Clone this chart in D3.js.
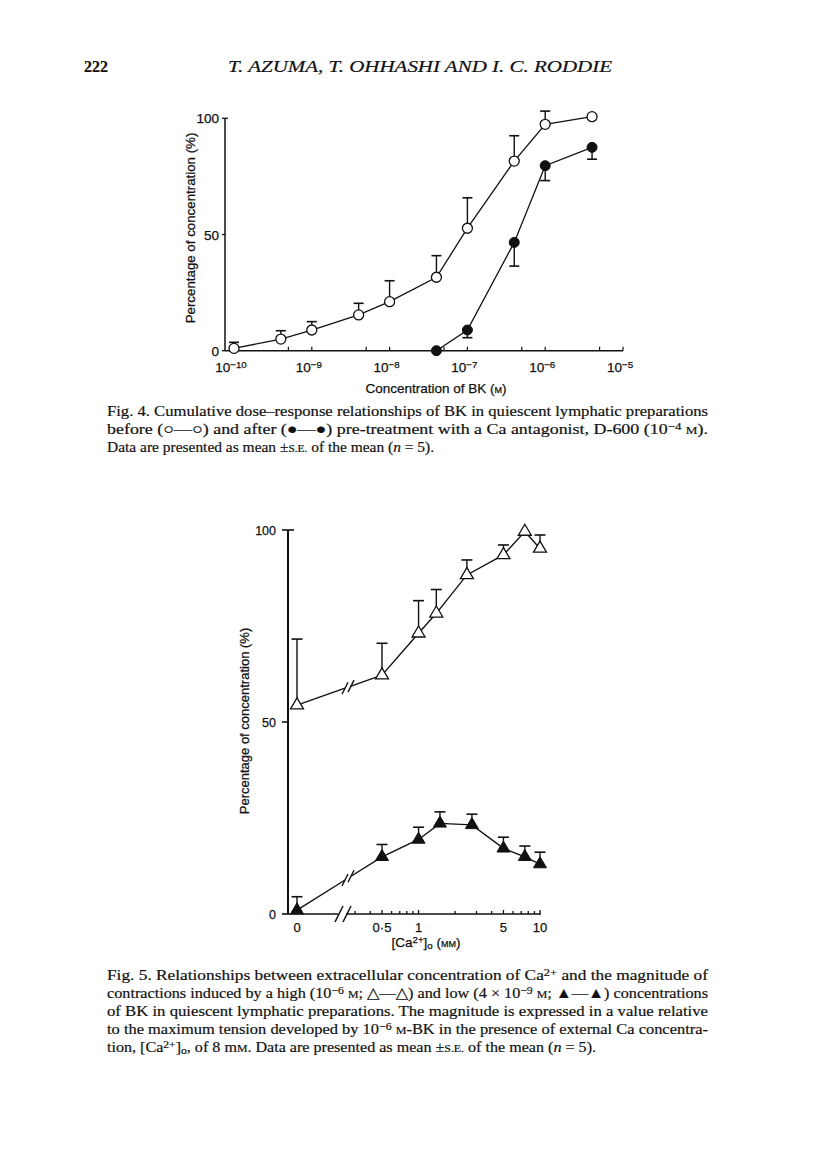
<!DOCTYPE html>
<html>
<head>
<meta charset="utf-8">
<script src="https://cdn.jsdelivr.net/npm/d3@7"></script>
<style>
  body { margin: 0; background: #fff; }
  svg { display: block; }
  .sans { font-family: 'Liberation Sans', Arial, Helvetica, sans-serif; fill: #111; stroke: #111; stroke-width: 0.25px; }
  .serif { font-family: 'Liberation Serif', 'DejaVu Serif', serif; fill: #111; stroke: #111; stroke-width: 0.2px; }
  .sc { font-variant-caps: all-small-caps; }
</style>
</head>
<body>
<script>
// ---- Fig. 4 : BK dose-response, before / after D-600 ----
const bkConc = [1e-10, 4e-10, 1e-9, 4e-9, 1e-8, 4e-8, 1e-7, 4e-7, 1e-6, 4e-6]
const beforeMean = [1.0, 5.0, 8.9, 15.4, 21.1, 31.6, 52.7, 81.6, 97.4, 100.7]
const beforeSE = [2.6, 3.6, 3.6, 5.0, 9.0, 9.3, 13.1, 10.9, 5.7, 0]
const afterConc = [4e-8, 1e-7, 4e-7, 1e-6, 4e-6]
const afterMean = [0, 8.9, 46.6, 79.6, 87.5]
const afterSE = [0, 3.3, 10.2, 6.4, 5.1]
const bkMajorTicks = [1e-10, 1e-9, 1e-8, 1e-7, 1e-6, 1e-5]
const bkMinorTicks = [5e-10, 5e-9, 5e-8, 5e-7, 5e-6]
const bkTickExp = ['−10', '−9', '−8', '−7', '−6', '−5']

// ---- Fig. 5 : extracellular Ca2+ ----
const caHigh = [0, 0.5, 1, 1.4, 2.5, 5, 7.5, 10]
const highMean = [54.4, 62.2, 73.1, 78.3, 88.3, 93.5, 99.6, 95.2]
const highSE = [17.2, 8.3, 8.5, 6.2, 3.9, 2.6, 0, 3.5]
const caLow = [0, 0.5, 1, 1.5, 2.75, 5, 7.5, 10]
const lowMean = [1.0, 14.9, 19.4, 23.6, 23.2, 17.1, 14.9, 13.0]
const lowSE = [3.5, 3.2, 3.2, 3.0, 2.8, 2.9, 2.8, 3.1]
const caTicks = [0.3, 0.4, 0.5, 0.6, 0.7, 0.8, 0.9, 1, 2, 3, 4, 5, 6, 7, 8, 9, 10]
const caTickLabels = [0.5, 1, 5, 10]
const pctTicks = [0, 50, 100]

let svg = d3.select('body').append('svg')
  .attr('width', 816)
  .attr('height', 1160)

svg.append('rect').attr('width', 816).attr('height', 1160).attr('fill', '#fff')

// tiny markup: ^{sup} _{sub} ~{small caps} *{italic}
function rich(text, str) {
  let re = /([\^_~*])\{([^}]*)\}/g
  let last = 0
  let m
  while ((m = re.exec(str)) !== null) {
    if (m.index > last) text.append('tspan').text(str.slice(last, m.index))
    let t = text.append('tspan').text(m[2])
    if (m[1] === '^') t.attr('baseline-shift', '38%').attr('font-size', '72%')
    if (m[1] === '_') t.attr('baseline-shift', '-22%').attr('font-size', '72%')
    if (m[1] === '~') t.attr('class', 'sc')
    if (m[1] === '*') t.attr('font-style', 'italic')
    last = re.lastIndex
  }
  if (last < str.length) text.append('tspan').text(str.slice(last))
  return text
}

// ---- page header ----
svg.append('text').attr('class', 'serif')
  .attr('x', 84).attr('y', 72)
  .attr('font-size', 16).attr('font-weight', 'bold')
  .text('222')
svg.append('text').attr('class', 'serif')
  .attr('x', 228).attr('y', 72)
  .attr('font-size', 16.5).attr('font-style', 'italic')
  .attr('textLength', 384).attr('lengthAdjust', 'spacingAndGlyphs')
  .text('T. AZUMA, T. OHHASHI AND I. C. RODDIE')

// ================= Fig. 4 =================
let x4 = d3.scaleLog().domain([1e-10, 1e-5]).range([234, 623])
let y4 = d3.scaleLinear().domain([0, 100]).range([350.7, 118.3])
let axis4x = 225

let f4 = svg.append('g')

// x axis line, ticks pointing up
f4.append('line')
  .attr('x1', axis4x).attr('x2', x4(1e-5))
  .attr('y1', y4(0)).attr('y2', y4(0))
  .attr('stroke', '#111').attr('stroke-width', 1.5)
f4.selectAll('.xt4')
  .data(bkMajorTicks.concat(bkMinorTicks))
  .enter().append('line')
  .attr('x1', d => x4(d)).attr('x2', d => x4(d))
  .attr('y1', y4(0)).attr('y2', y4(0) - 4)
  .attr('stroke', '#111').attr('stroke-width', 1.2)
f4.selectAll('.xl4')
  .data(bkMajorTicks)
  .enter().append('text')
  .attr('class', 'sans')
  .attr('x', d => x4(d) - 3)
  .attr('y', y4(0) + 21)
  .attr('font-size', 13.5)
  .attr('text-anchor', 'middle')
  .each(function(d, i) {
    rich(d3.select(this), '10^{' + bkTickExp[i] + '}')
  })

// y axis
f4.append('line')
  .attr('x1', axis4x).attr('x2', axis4x)
  .attr('y1', y4(0)).attr('y2', y4(100))
  .attr('stroke', '#111').attr('stroke-width', 1.5)
f4.selectAll('.yt4')
  .data(pctTicks)
  .enter().append('line')
  .attr('x1', axis4x - 3).attr('x2', d => d === 100 ? axis4x + 3 : axis4x)
  .attr('y1', d => y4(d)).attr('y2', d => y4(d))
  .attr('stroke', '#111').attr('stroke-width', 1.3)
f4.selectAll('.yl4')
  .data(pctTicks)
  .enter().append('text')
  .attr('class', 'sans')
  .attr('x', axis4x - 6)
  .attr('y', d => y4(d) + 5)
  .attr('font-size', 13.5)
  .attr('text-anchor', 'end')
  .text(d => d)

f4.append('text').attr('class', 'sans')
  .attr('transform', 'translate(195,228) rotate(-90)')
  .attr('font-size', 13.3)
  .attr('text-anchor', 'middle')
  .text('Percentage of concentration (%)')
f4.append('text').attr('class', 'sans')
  .attr('x', 436).attr('y', 393)
  .attr('font-size', 13.5)
  .attr('text-anchor', 'middle')
  .call(t => rich(t, 'Concentration of BK (~{M})'))

let line4 = d3.line().x(d => x4(d[0])).y(d => y4(d[1]))
let before = bkConc.map((c, i) => [c, beforeMean[i], beforeSE[i]])
let after = afterConc.map((c, i) => [c, afterMean[i], afterSE[i]])

// error bars: before goes up, after goes down
function errBars(g, data, xs, ys, dir, cap) {
  let bars = g.selectAll(null).data(data.filter(d => d[2] > 0)).enter().append('g')
  bars.append('line')
    .attr('x1', d => xs(d[0])).attr('x2', d => xs(d[0]))
    .attr('y1', d => ys(d[1])).attr('y2', d => ys(d[1] + dir * d[2]))
    .attr('stroke', '#111').attr('stroke-width', 1.4)
  bars.append('line')
    .attr('x1', d => xs(d[0]) - cap / 2).attr('x2', d => xs(d[0]) + cap / 2)
    .attr('y1', d => ys(d[1] + dir * d[2])).attr('y2', d => ys(d[1] + dir * d[2]))
    .attr('stroke', '#111').attr('stroke-width', 1.6)
}
errBars(f4, before, x4, y4, 1, 10)
errBars(f4, after, x4, y4, -1, 10)

f4.append('path').datum(before)
  .attr('d', line4).attr('fill', 'none')
  .attr('stroke', '#111').attr('stroke-width', 1.3)
f4.append('path').datum(after)
  .attr('d', line4).attr('fill', 'none')
  .attr('stroke', '#111').attr('stroke-width', 1.3)

f4.selectAll('.open4').data(before).enter().append('circle')
  .attr('cx', d => x4(d[0])).attr('cy', d => y4(d[1]))
  .attr('r', 5)
  .attr('fill', '#fff').attr('stroke', '#111').attr('stroke-width', 1.3)
f4.selectAll('.closed4').data(after).enter().append('circle')
  .attr('cx', d => x4(d[0])).attr('cy', d => y4(d[1]))
  .attr('r', 5)
  .attr('fill', '#111').attr('stroke', '#111').attr('stroke-width', 1)

// ================= Fig. 5 =================
let x5log = d3.scaleLog().domain([0.5, 10]).range([382, 540])
let zeroX = 297
let x5 = v => v === 0 ? zeroX : x5log(v)
let y5 = d3.scaleLinear().domain([0, 100]).range([914, 530])
let axis5x = 288
let breakX = 341

let f5 = svg.append('g')

// y axis
f5.append('line')
  .attr('x1', axis5x).attr('x2', axis5x)
  .attr('y1', y5(0)).attr('y2', y5(100))
  .attr('stroke', '#111').attr('stroke-width', 2)
f5.selectAll('.yt5')
  .data(pctTicks)
  .enter().append('line')
  .attr('x1', axis5x - 6).attr('x2', d => d === 100 ? axis5x + 6 : axis5x)
  .attr('y1', d => y5(d)).attr('y2', d => y5(d))
  .attr('stroke', '#111').attr('stroke-width', 1.6)
f5.selectAll('.yl5')
  .data(pctTicks)
  .enter().append('text')
  .attr('class', 'sans')
  .attr('x', axis5x - 12)
  .attr('y', d => y5(d) + 4.5)
  .attr('font-size', 12.5)
  .attr('text-anchor', 'end')
  .text(d => d)

// x axis with a break
let by = y5(0)
f5.append('line')
  .attr('x1', axis5x).attr('x2', breakX - 3)
  .attr('y1', by).attr('y2', by)
  .attr('stroke', '#111').attr('stroke-width', 1.5)
f5.append('line')
  .attr('x1', breakX + 5).attr('x2', x5log(10) + 1)
  .attr('y1', by).attr('y2', by)
  .attr('stroke', '#111').attr('stroke-width', 1.5)
f5.selectAll('.axbreak').data([-2, 6]).enter().append('line')
  .attr('x1', d => breakX + d - 4).attr('x2', d => breakX + d + 4)
  .attr('y1', by + 8).attr('y2', by - 8)
  .attr('stroke', '#111').attr('stroke-width', 1.5)
f5.selectAll('.xt5')
  .data(caTicks)
  .enter().append('line')
  .attr('x1', d => x5log(d)).attr('x2', d => x5log(d))
  .attr('y1', by).attr('y2', d => caTickLabels.includes(d) ? by - 4 : by - 3)
  .attr('stroke', '#111').attr('stroke-width', 1.3)
f5.selectAll('.xl5')
  .data([0].concat(caTickLabels))
  .enter().append('text')
  .attr('class', 'sans')
  .attr('x', d => x5(d))
  .attr('y', by + 18)
  .attr('font-size', 13)
  .attr('text-anchor', 'middle')
  .text(d => String(d).replace('.', '·'))

f5.append('text').attr('class', 'sans')
  .attr('transform', 'translate(249,721) rotate(-90)')
  .attr('font-size', 13)
  .attr('text-anchor', 'middle')
  .text('Percentage of concentration (%)')
f5.append('text').attr('class', 'sans')
  .attr('x', 426).attr('y', 947)
  .attr('font-size', 13.5)
  .attr('text-anchor', 'middle')
  .call(t => rich(t, '[Ca^{2+}]_{o} (~{mM})'))

let high = caHigh.map((c, i) => [c, highMean[i], highSE[i]])
let low = caLow.map((c, i) => [c, lowMean[i], lowSE[i]])

errBars(f5, high, x5, y5, 1, 11)
errBars(f5, low, x5, y5, 1, 11)

// connecting lines, broken between 0 and 0.5 mM
function brokenLine(g, data) {
  let p0 = data[0], p1 = data[1]
  let ax = x5(p0[0]), ay = y5(p0[1]), bx = x5(p1[0]), b_y = y5(p1[1])
  let yAt = xx => ay + (b_y - ay) * (xx - ax) / (bx - ax)
  let g1 = breakX + 4, g2 = breakX + 10
  g.append('line').attr('x1', ax).attr('y1', ay).attr('x2', g1).attr('y2', yAt(g1))
    .attr('stroke', '#111').attr('stroke-width', 1.4)
  g.append('line').attr('x1', g2).attr('y1', yAt(g2)).attr('x2', bx).attr('y2', b_y)
    .attr('stroke', '#111').attr('stroke-width', 1.4)
  ;[g1, g2].forEach(xx => {
    g.append('line')
      .attr('x1', xx - 3).attr('y1', yAt(xx) + 6)
      .attr('x2', xx + 3).attr('y2', yAt(xx) - 6)
      .attr('stroke', '#111').attr('stroke-width', 1.4)
  })
  g.append('path').datum(data.slice(1))
    .attr('d', d3.line().x(d => x5(d[0])).y(d => y5(d[1])))
    .attr('fill', 'none').attr('stroke', '#111').attr('stroke-width', 1.4)
}
brokenLine(f5, high)
brokenLine(f5, low)

let tri = 'M0,-7.3L6.5,3.7L-6.5,3.7Z'
f5.selectAll('.open5').data(high).enter().append('path')
  .attr('d', tri)
  .attr('transform', d => `translate(${x5(d[0])},${y5(d[1])})`)
  .attr('fill', '#fff').attr('stroke', '#111').attr('stroke-width', 1.3)
f5.selectAll('.closed5').data(low).enter().append('path')
  .attr('d', tri)
  .attr('transform', d => `translate(${x5(d[0])},${y5(d[1])})`)
  .attr('fill', '#111').attr('stroke', '#111').attr('stroke-width', 1)

// ================= captions =================
let cap4 = [
  'Fig. 4. Cumulative dose–response relationships of BK in quiescent lymphatic preparations',
  'before (○—○) and after (●—●) pre-treatment with a Ca antagonist, D-600 (10^{−4} ~{M}).',
  'Data are presented as mean ±~{s.e.} of the mean (*{n} = 5).'
]
let cap5 = [
  'Fig. 5. Relationships between extracellular concentration of Ca^{2+} and the magnitude of',
  'contractions induced by a high (10^{−6} ~{M}; △—△) and low (4 × 10^{−9} ~{M}; ▲—▲) concentrations',
  'of BK in quiescent lymphatic preparations. The magnitude is expressed in a value relative',
  'to the maximum tension developed by 10^{−6} ~{M}-BK in the presence of external Ca concentra-',
  'tion, [Ca^{2+}]_{o}, of 8 m~{M}. Data are presented as mean ±~{s.e.} of the mean (*{n} = 5).'
]

// full lines are justified to the text block; the last line gets a little less stretch
function caption(lines, y0) {
  let nodes = lines.map((s, i) => {
    let t = svg.append('text').attr('class', 'serif')
      .attr('x', 107).attr('y', y0 + i * 18)
      .attr('font-size', 15)
    return rich(t, s)
  })
  let stretch = 601 / nodes[0].node().getComputedTextLength() * 0.93
  nodes.forEach((t, i) => {
    let w = i === nodes.length - 1 ? t.node().getComputedTextLength() * stretch : 601
    t.attr('textLength', w).attr('lengthAdjust', 'spacingAndGlyphs')
  })
}
caption(cap4, 416)
caption(cap5, 980)
</script>
</body>
</html>
